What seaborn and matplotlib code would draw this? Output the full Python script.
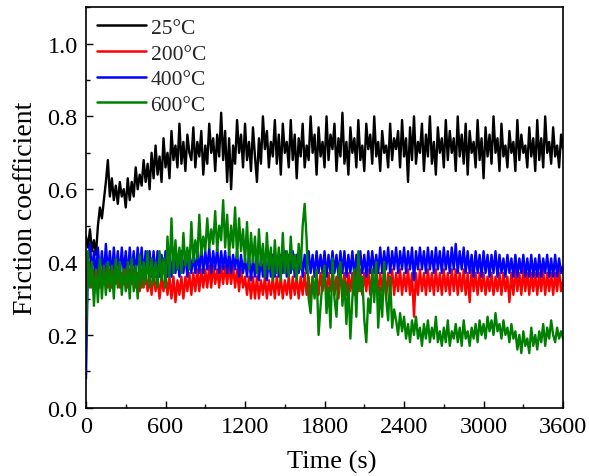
import numpy as np
import pandas as pd
import matplotlib
matplotlib.use("Agg")
import matplotlib.pyplot as plt
import seaborn as sns
from matplotlib.ticker import MultipleLocator

sns.set_theme(style="ticks")
plt.rcParams['font.family'] = ['Liberation Serif', 'DejaVu Serif']

# Time axis (s), sampled every 15 s
time_s = list(range(0, 3601, 15))

fric_25C = [
    0.47, 0.44, 0.49, 0.43, 0.46, 0.42, 0.50, 0.55, 0.52, 0.57, 0.62, 0.68,
    0.58, 0.63, 0.57, 0.61, 0.56, 0.62, 0.58, 0.60, 0.55, 0.63, 0.57, 0.62,
    0.58, 0.66, 0.60, 0.64, 0.61, 0.68, 0.62, 0.67, 0.60, 0.70, 0.63, 0.72,
    0.64, 0.69, 0.62, 0.74, 0.66, 0.70, 0.63, 0.76, 0.68, 0.72, 0.66, 0.78,
    0.67, 0.73, 0.65, 0.75, 0.70, 0.68, 0.77, 0.66, 0.73, 0.69, 0.76, 0.64,
    0.72, 0.67, 0.78, 0.70, 0.74, 0.65, 0.75, 0.69, 0.81, 0.68, 0.76, 0.62,
    0.74, 0.60, 0.72, 0.67, 0.79, 0.70, 0.75, 0.66, 0.78, 0.68, 0.73, 0.65,
    0.77, 0.69, 0.62, 0.74, 0.67, 0.80, 0.71, 0.76, 0.66, 0.73, 0.69, 0.79,
    0.67, 0.75, 0.64, 0.78, 0.70, 0.73, 0.66, 0.79, 0.68, 0.75, 0.63, 0.74,
    0.69, 0.78, 0.66, 0.72, 0.68, 0.80, 0.70, 0.75, 0.64, 0.77, 0.69, 0.73,
    0.66, 0.80, 0.68, 0.75, 0.71, 0.78, 0.65, 0.74, 0.69, 0.81, 0.67, 0.73,
    0.64, 0.77, 0.70, 0.74, 0.66, 0.79, 0.68, 0.72, 0.65, 0.78, 0.71, 0.75,
    0.67, 0.80, 0.69, 0.73, 0.65, 0.76, 0.70, 0.72, 0.66, 0.78, 0.68, 0.74,
    0.71, 0.76, 0.66, 0.79, 0.69, 0.74, 0.62, 0.77, 0.68, 0.80, 0.67, 0.73,
    0.70, 0.78, 0.65, 0.75, 0.69, 0.80, 0.67, 0.73, 0.64, 0.77, 0.70, 0.74,
    0.66, 0.79, 0.68, 0.76, 0.70, 0.74, 0.65, 0.80, 0.69, 0.75, 0.67, 0.78,
    0.64, 0.76, 0.70, 0.73, 0.66, 0.79, 0.68, 0.74, 0.63, 0.77, 0.69, 0.75,
    0.67, 0.80, 0.70, 0.74, 0.65, 0.78, 0.69, 0.72, 0.66, 0.76, 0.70, 0.73,
    0.65, 0.79, 0.68, 0.75, 0.70, 0.72, 0.66, 0.77, 0.69, 0.74, 0.65, 0.79,
    0.68, 0.74, 0.66, 0.80, 0.70, 0.73, 0.67, 0.77, 0.69, 0.72, 0.66, 0.75,
    0.71,
]

fric_200C = [
    0.38, 0.35, 0.40, 0.33, 0.38, 0.34, 0.39, 0.33, 0.38, 0.34, 0.39, 0.33,
    0.38, 0.33, 0.39, 0.34, 0.38, 0.33, 0.37, 0.34, 0.39, 0.33, 0.38, 0.34,
    0.38, 0.33, 0.37, 0.32, 0.38, 0.33, 0.37, 0.32, 0.37, 0.31, 0.37, 0.32,
    0.36, 0.30, 0.36, 0.32, 0.37, 0.31, 0.36, 0.30, 0.36, 0.29, 0.35, 0.31,
    0.36, 0.30, 0.36, 0.32, 0.37, 0.31, 0.37, 0.32, 0.38, 0.32, 0.38, 0.33,
    0.38, 0.33, 0.39, 0.33, 0.39, 0.34, 0.38, 0.33, 0.39, 0.34, 0.39, 0.34,
    0.39, 0.34, 0.39, 0.33, 0.38, 0.32, 0.38, 0.33, 0.36, 0.31, 0.36, 0.30,
    0.36, 0.30, 0.36, 0.30, 0.35, 0.31, 0.36, 0.30, 0.35, 0.31, 0.36, 0.30,
    0.36, 0.31, 0.36, 0.30, 0.35, 0.31, 0.36, 0.30, 0.36, 0.31, 0.36, 0.30,
    0.36, 0.31, 0.37, 0.31, 0.36, 0.30, 0.36, 0.31, 0.37, 0.31, 0.37, 0.32,
    0.37, 0.31, 0.37, 0.32, 0.37, 0.31, 0.36, 0.30, 0.37, 0.32, 0.37, 0.31,
    0.37, 0.32, 0.37, 0.31, 0.38, 0.32, 0.38, 0.31, 0.37, 0.32, 0.38, 0.31,
    0.37, 0.32, 0.38, 0.31, 0.37, 0.32, 0.38, 0.30, 0.37, 0.32, 0.38, 0.31,
    0.37, 0.32, 0.38, 0.31, 0.37, 0.32, 0.38, 0.31, 0.37, 0.25, 0.37, 0.31,
    0.38, 0.32, 0.37, 0.31, 0.38, 0.32, 0.37, 0.31, 0.38, 0.32, 0.37, 0.31,
    0.38, 0.32, 0.37, 0.31, 0.38, 0.32, 0.38, 0.31, 0.37, 0.32, 0.38, 0.31,
    0.37, 0.29, 0.38, 0.32, 0.37, 0.31, 0.37, 0.32, 0.37, 0.31, 0.36, 0.32,
    0.37, 0.31, 0.36, 0.32, 0.37, 0.31, 0.37, 0.32, 0.36, 0.29, 0.37, 0.31,
    0.38, 0.32, 0.37, 0.31, 0.38, 0.32, 0.37, 0.31, 0.37, 0.32, 0.37, 0.31,
    0.37, 0.32, 0.38, 0.31, 0.37, 0.32, 0.37, 0.31, 0.37, 0.32, 0.38, 0.32,
    0.35,
]

fric_400C = [
    0.08, 0.40, 0.45, 0.37, 0.43, 0.36, 0.44, 0.37, 0.43, 0.36, 0.45, 0.37,
    0.43, 0.36, 0.44, 0.37, 0.43, 0.36, 0.44, 0.37, 0.43, 0.36, 0.44, 0.37,
    0.43, 0.36, 0.44, 0.37, 0.44, 0.36, 0.43, 0.37, 0.43, 0.36, 0.43, 0.36,
    0.43, 0.36, 0.42, 0.37, 0.43, 0.36, 0.42, 0.36, 0.43, 0.37, 0.42, 0.36,
    0.43, 0.37, 0.42, 0.36, 0.43, 0.37, 0.42, 0.37, 0.43, 0.37, 0.44, 0.37,
    0.43, 0.38, 0.44, 0.37, 0.43, 0.38, 0.44, 0.37, 0.43, 0.38, 0.43, 0.37,
    0.43, 0.37, 0.42, 0.38, 0.43, 0.36, 0.42, 0.37, 0.41, 0.36, 0.42, 0.35,
    0.41, 0.36, 0.42, 0.35, 0.41, 0.36, 0.42, 0.35, 0.41, 0.36, 0.42, 0.36,
    0.41, 0.36, 0.42, 0.37, 0.43, 0.36, 0.42, 0.37, 0.43, 0.36, 0.42, 0.37,
    0.43, 0.36, 0.42, 0.37, 0.43, 0.37, 0.42, 0.36, 0.43, 0.37, 0.42, 0.37,
    0.43, 0.36, 0.42, 0.37, 0.43, 0.37, 0.42, 0.36, 0.43, 0.37, 0.43, 0.36,
    0.42, 0.37, 0.43, 0.36, 0.42, 0.37, 0.43, 0.37, 0.42, 0.36, 0.43, 0.37,
    0.43, 0.37, 0.42, 0.37, 0.44, 0.37, 0.43, 0.38, 0.44, 0.37, 0.43, 0.38,
    0.44, 0.37, 0.43, 0.38, 0.44, 0.37, 0.43, 0.38, 0.44, 0.35, 0.43, 0.38,
    0.44, 0.38, 0.43, 0.37, 0.44, 0.38, 0.43, 0.37, 0.44, 0.38, 0.43, 0.37,
    0.44, 0.38, 0.43, 0.37, 0.44, 0.38, 0.45, 0.37, 0.43, 0.38, 0.44, 0.37,
    0.43, 0.37, 0.42, 0.36, 0.43, 0.37, 0.42, 0.36, 0.43, 0.37, 0.42, 0.36,
    0.42, 0.37, 0.43, 0.36, 0.42, 0.37, 0.41, 0.36, 0.42, 0.37, 0.41, 0.36,
    0.42, 0.36, 0.41, 0.37, 0.42, 0.36, 0.41, 0.36, 0.42, 0.36, 0.41, 0.36,
    0.42, 0.36, 0.41, 0.37, 0.42, 0.36, 0.41, 0.36, 0.42, 0.36, 0.41, 0.37,
    0.39,
]

fric_600C = [
    0.18, 0.43, 0.33, 0.40, 0.28, 0.38, 0.29, 0.41, 0.30, 0.39, 0.31, 0.40,
    0.32, 0.39, 0.30, 0.41, 0.33, 0.40, 0.31, 0.38, 0.32, 0.40, 0.30, 0.41,
    0.32, 0.39, 0.30, 0.42, 0.33, 0.40, 0.34, 0.43, 0.33, 0.41, 0.34, 0.40,
    0.33, 0.43, 0.35, 0.41, 0.33, 0.47, 0.36, 0.52, 0.37, 0.46, 0.38, 0.44,
    0.37, 0.48, 0.39, 0.44, 0.38, 0.51, 0.40, 0.46, 0.41, 0.53, 0.42, 0.47,
    0.43, 0.52, 0.44, 0.49, 0.45, 0.54, 0.43, 0.50, 0.46, 0.57, 0.44, 0.53,
    0.42, 0.50, 0.44, 0.55, 0.41, 0.52, 0.43, 0.49, 0.40, 0.51, 0.38, 0.48,
    0.40, 0.47, 0.37, 0.49, 0.39, 0.45, 0.36, 0.48, 0.38, 0.44, 0.35, 0.46,
    0.37, 0.44, 0.35, 0.48, 0.37, 0.43, 0.36, 0.47, 0.38, 0.42, 0.35, 0.45,
    0.38, 0.50, 0.56, 0.46, 0.30, 0.26, 0.36, 0.30, 0.38, 0.20, 0.28, 0.35,
    0.39, 0.26, 0.33, 0.22, 0.41, 0.30, 0.25, 0.37, 0.40, 0.28, 0.35, 0.23,
    0.34, 0.19, 0.30, 0.38, 0.25, 0.43, 0.32, 0.36, 0.24, 0.18, 0.30, 0.26,
    0.38, 0.29, 0.40, 0.22, 0.33, 0.25, 0.40, 0.30, 0.24, 0.36, 0.22, 0.27,
    0.24, 0.20, 0.26, 0.21, 0.25, 0.19, 0.23, 0.18, 0.24, 0.20, 0.25, 0.19,
    0.22, 0.17, 0.23, 0.19, 0.24, 0.18, 0.22, 0.19, 0.25, 0.18, 0.21, 0.17,
    0.22, 0.18, 0.24, 0.17, 0.21, 0.19, 0.23, 0.18, 0.22, 0.17, 0.24, 0.19,
    0.21, 0.17, 0.22, 0.19, 0.23, 0.18, 0.24, 0.20, 0.23, 0.19, 0.25, 0.21,
    0.24, 0.20, 0.26, 0.21, 0.23, 0.19, 0.24, 0.20, 0.22, 0.18, 0.23, 0.19,
    0.21, 0.16, 0.20, 0.15, 0.21, 0.17, 0.19, 0.15, 0.22, 0.17, 0.20, 0.16,
    0.21, 0.18, 0.23, 0.17, 0.22, 0.19, 0.24, 0.20, 0.18, 0.22, 0.19, 0.21,
    0.19,
]

labels = ["25°C", "200°C", "400°C", "600°C"]
colors = ["black", "red", "blue", "green"]
series = [fric_25C, fric_200C, fric_400C, fric_600C]

fig = plt.figure(figsize=(5.89, 4.77), dpi=100)
ax = fig.add_axes([0.146, 0.143, 0.81, 0.84])

for lab, col, vals in zip(labels, colors, series):
    df = pd.DataFrame({"Time (s)": time_s[:len(vals)], "mu": vals})
    sns.lineplot(data=df, x="Time (s)", y="mu", ax=ax, color=col, lw=1.7,
                 label=lab, estimator=None, sort=False)

ax.set_xlim(0, 3600)
ax.set_ylim(0, 1.1)
ax.xaxis.set_major_locator(MultipleLocator(600))
ax.xaxis.set_minor_locator(MultipleLocator(300))
ax.yaxis.set_minor_locator(MultipleLocator(0.1))
ax.tick_params(which="both", direction="in", top=False, right=False,
               labelsize=17.5, width=1.0, color="black", labelcolor="black",
               pad=6)
ax.tick_params(which="major", length=5)
ax.tick_params(which="minor", length=3)
ax.set_yticks([0.0, 0.2, 0.4, 0.6, 0.8, 1.0])
ax.set_yticklabels(["0.0", "0.2", "0.4", "0.6", "0.8", "1.0"])
for s in ax.spines.values():
    s.set_linewidth(1.2)
    s.set_color("black")
ax.set_xlabel("Time (s)", fontsize=19, color="black")
ax.xaxis.set_label_coords(0.515, -0.105)
ax.set_ylabel("Friction coefficient", fontsize=20, labelpad=7, color="black")

leg = ax.legend(loc="upper left", frameon=False, fontsize=15.5,
                handlelength=2.3, labelspacing=0.26, borderaxespad=0.25,
                handletextpad=0.2, borderpad=0.25)
for h in leg.get_lines():
    h.set_linewidth(1.8)

fig.savefig("out.png", dpi=100)
